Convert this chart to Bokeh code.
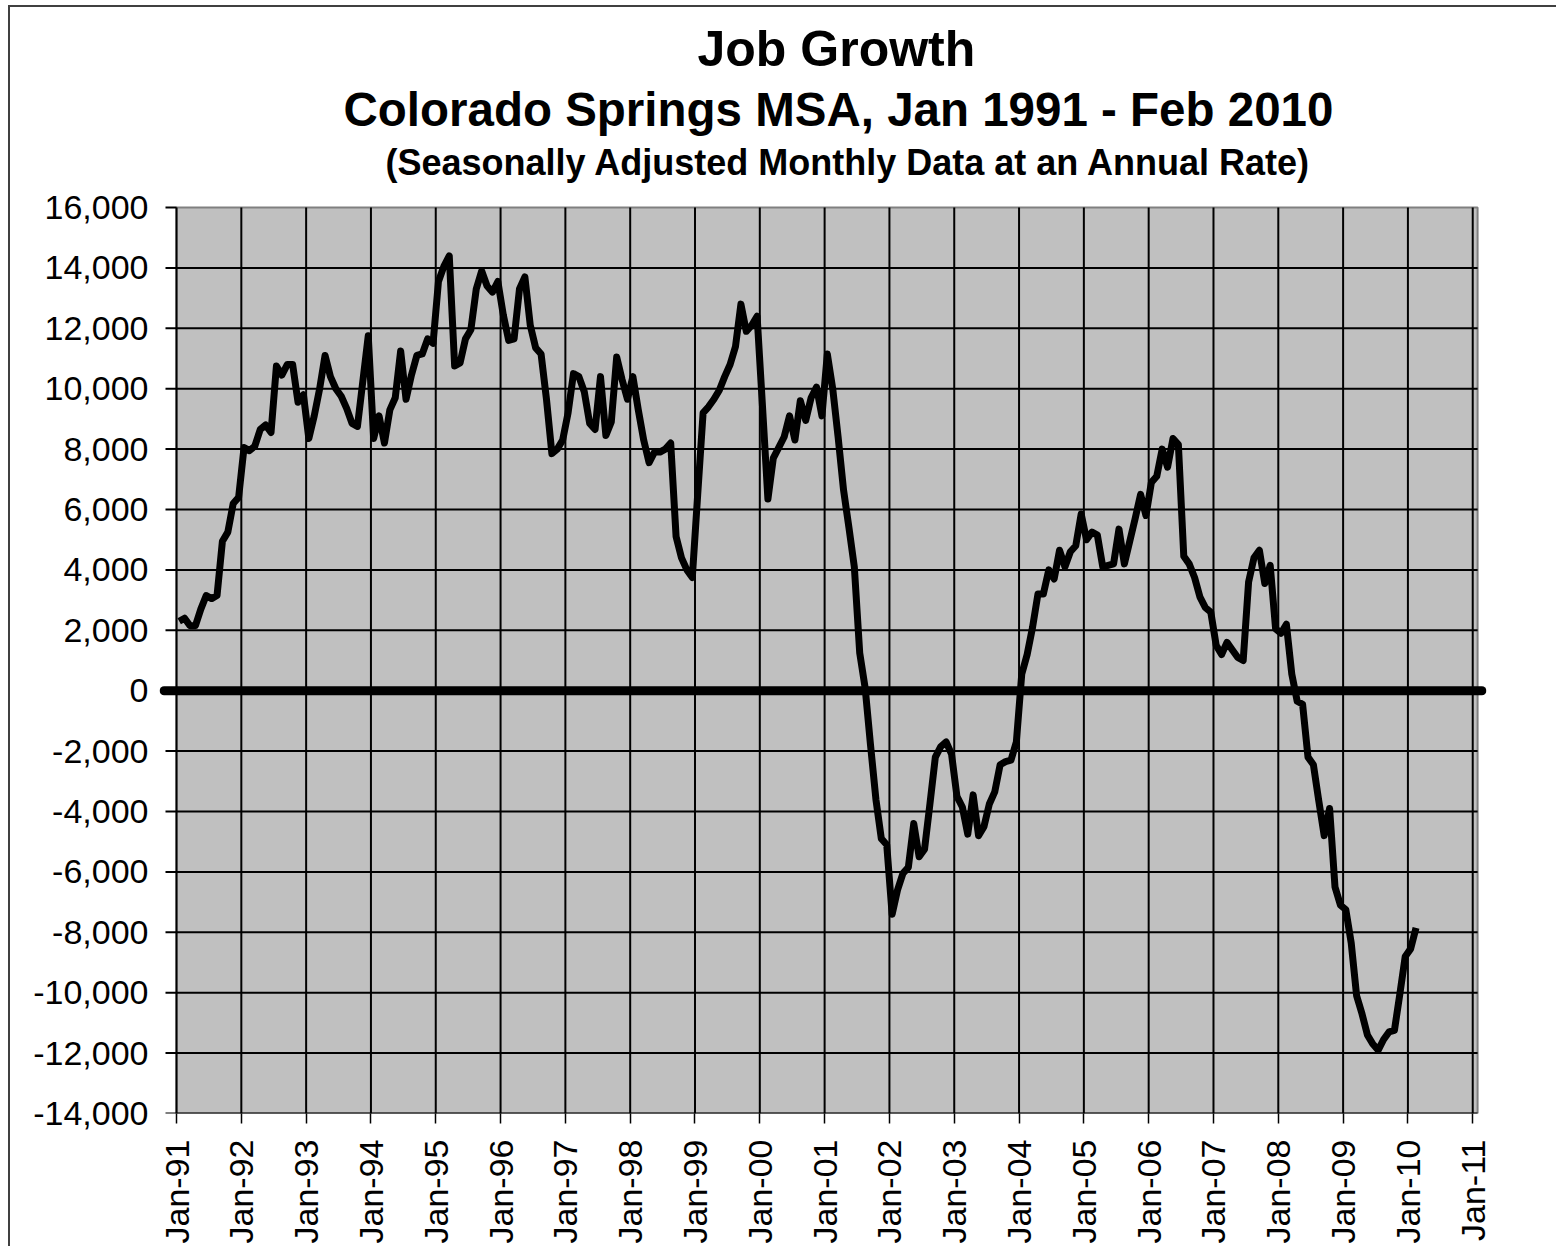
import math
import numpy as np
from bokeh.plotting import figure
from bokeh.models import Range1d, FixedTicker, NumeralTickFormatter, Label
from bokeh.embed import file_html
from bokeh.resources import INLINE

# ---------------- data ----------------
first_month = "Jan-91"          # series runs monthly Jan 1991 .. Feb 2010
job_growth = [
    2300, 2400, 2150, 2150, 2700, 3150, 3050, 3150, 4950, 5250, 6200, 6400,          # 1991
    8050, 7950, 8100, 8650, 8800, 8550, 10750, 10450, 10800, 10800, 9550, 9800,      # 1992
    8350, 9100, 10000, 11100, 10400, 10000, 9750, 9350, 8850, 8750, 10250, 11750,    # 1993
    8350, 9100, 8200, 9300, 9700, 11250, 9650, 10450, 11100, 11150, 11650, 11500,    # 1994
    13550, 14050, 14400, 10750, 10850, 11650, 11950, 13300, 13900, 13400, 13200, 13550,  # 1995
    12450, 11600, 11650, 13300, 13700, 12100, 11350, 11150, 9650, 7850, 8000, 8300,  # 1996
    9200, 10500, 10400, 9900, 8850, 8650, 10400, 8450, 8900, 11050, 10300, 9650,     # 1997
    10400, 9300, 8300, 7550, 7900, 7900, 8000, 8200, 5100, 4400, 4000, 3750,         # 1998
    6500, 9200, 9400, 9650, 9950, 10400, 10800, 11400, 12800, 11900, 12100, 12400,   # 1999
    9400, 6350, 7700, 8050, 8400, 9100, 8300, 9600, 8950, 9700, 10050, 9100,         # 2000
    11150, 10000, 8400, 6650, 5400, 4100, 1250, 100, -1800, -3600, -4900, -5100,     # 2001
    -7400, -6600, -6050, -5850, -4400, -5500, -5250, -3750, -2200, -1850, -1700, -2100,  # 2002
    -3500, -3850, -4750, -3450, -4800, -4500, -3750, -3350, -2450, -2350, -2300, -1700,  # 2003
    550, 1200, 2100, 3200, 3200, 4000, 3700, 4650, 4100, 4600, 4800, 5850,           # 2004
    5000, 5250, 5150, 4100, 4150, 4200, 5350, 4200, 4950, 5700, 6500, 5800,          # 2005
    6900, 7100, 8000, 7400, 8350, 8150, 4450, 4200, 3750, 3100, 2750, 2600,          # 2006
    1500, 1200, 1600, 1350, 1100, 1000, 3600, 4400, 4650, 3550, 4150, 2050,          # 2007
    1900, 2200, 550, -350, -450, -2200, -2450, -3650, -4800, -3900, -6500, -7100,    # 2008
    -7250, -8350, -10100, -10700, -11400, -11700, -11900, -11550, -11300, -11250, -10050, -8800,  # 2009
    -8550, -7850,                                                                    # 2010
]
x_tick_labels = ["Jan-91", "Jan-92", "Jan-93", "Jan-94", "Jan-95", "Jan-96", "Jan-97",
                 "Jan-98", "Jan-99", "Jan-00", "Jan-01", "Jan-02", "Jan-03", "Jan-04",
                 "Jan-05", "Jan-06", "Jan-07", "Jan-08", "Jan-09", "Jan-10", "Jan-11"]
y_ticks = [-14000, -12000, -10000, -8000, -6000, -4000, -2000, 0,
           2000, 4000, 6000, 8000, 10000, 12000, 14000, 16000]

title_1 = "Job Growth"
title_2 = "Colorado Springs MSA, Jan 1991 - Feb 2010"
title_3 = "(Seasonally Adjusted Monthly Data at an Annual Rate)"

# ---------------- geometry helpers ----------------
x_ticks = [12 * i for i in range(len(x_tick_labels))]     # months since Jan-91
month_x = np.arange(len(job_growth)) + 0.5                 # points sit between ticks
y_min, y_max = y_ticks[0], y_ticks[-1]
area_right = x_ticks[-1] + 0.9                             # plot area ends just past Jan-11
FONT = "Liberation Sans"

# layout in page pixels: plot area spans y 207..1113, Jan-91 at x=176, 5.401 px per month
AREA_TOP, AREA_BOTTOM, CANVAS_TOP = 207, 1113, 7
units_per_px = (y_max - y_min) / (AREA_BOTTOM - AREA_TOP)
frame_y_end = y_max + (AREA_TOP - CANVAS_TOP) * units_per_px   # frame reaches to canvas top


def page_y(py):
    return y_max + (AREA_TOP - py) * units_per_px


def page_x(px):
    return (px - 176) / 5.401


p = figure(width=1548, height=1241, output_backend="svg", toolbar_location=None,
           title=None,
           x_range=Range1d(-3.15, 242.55), y_range=Range1d(y_min, frame_y_end),
           min_border_left=149, min_border_right=72, min_border_top=0,
           min_border_bottom=135)
p.styles = {"margin-left": "8px", "margin-top": "5px",
            "border-left": "2px solid #404040", "border-top": "2px solid #404040"}
p.outline_line_color = None
p.background_fill_color = "white"
p.border_fill_color = "white"
p.grid.visible = False

# plot area
p.quad(left=0, right=area_right, bottom=y_min, top=y_max,
       fill_color="#C0C0C0", line_color="#808080", line_width=2)
# grid lines
p.segment(x0=x_ticks[1:], y0=y_min, x1=x_ticks[1:], y1=y_max, line_color="black", line_width=2)
p.segment(x0=0, y0=y_ticks[1:-1], x1=area_right, y1=y_ticks[1:-1], line_color="black", line_width=2)
# axis lines and y tick marks
p.segment(x0=0, y0=y_min, x1=0, y1=y_max, line_color="black", line_width=2)
p.segment(x0=0, y0=y_min, x1=area_right, y1=y_min, line_color="black", line_width=2)
p.segment(x0=-2.04, y0=y_ticks, x1=0, y1=y_ticks, line_color="black", line_width=2)
# thick zero line extending past the plot area
p.line(x=[-2.3, 241.7], y=[0, 0], line_color="black", line_width=9, line_cap="round")
# data
p.line(x=month_x, y=job_growth, line_color="black", line_width=7, line_join="round")

# axes
xa = p.xaxis[0]
xa.ticker = FixedTicker(ticks=x_ticks)
xa.major_label_overrides = {t: lab for t, lab in zip(x_ticks, x_tick_labels)}
xa.axis_line_color = None
xa.major_tick_out = 10
xa.major_tick_in = 0
xa.major_tick_line_color = "black"
xa.major_tick_line_width = 1.5
xa.minor_tick_line_color = None
xa.major_label_orientation = math.pi / 2
xa.major_label_standoff = 16
xa.major_label_text_font = FONT
xa.major_label_text_font_size = "34px"
xa.major_label_text_color = "black"

ya = p.yaxis[0]
ya.ticker = FixedTicker(ticks=y_ticks)
ya.formatter = NumeralTickFormatter(format="0,0")
ya.axis_line_color = None
ya.major_tick_line_color = None
ya.major_tick_out = 0
ya.major_tick_in = 0
ya.minor_tick_line_color = None
ya.major_label_standoff = 11
ya.major_label_text_font = FONT
ya.major_label_text_font_size = "34px"
ya.major_label_text_color = "black"

# titles (anchor positions in page pixels)
for txt, size, left_px, anchor_px in [(title_1, 50, 697, 48),
                                      (title_2, 47.5, 343, 109),
                                      (title_3, 36, 385, 162)]:
    p.add_layout(Label(x=page_x(left_px), y=page_y(anchor_px), text=txt,
                       text_align="left", text_baseline="alphabetic",
                       text_font=FONT, text_font_style="bold",
                       text_font_size=f"{size}px", text_color="black"))

open("out.html", "w").write(file_html(p, INLINE))
